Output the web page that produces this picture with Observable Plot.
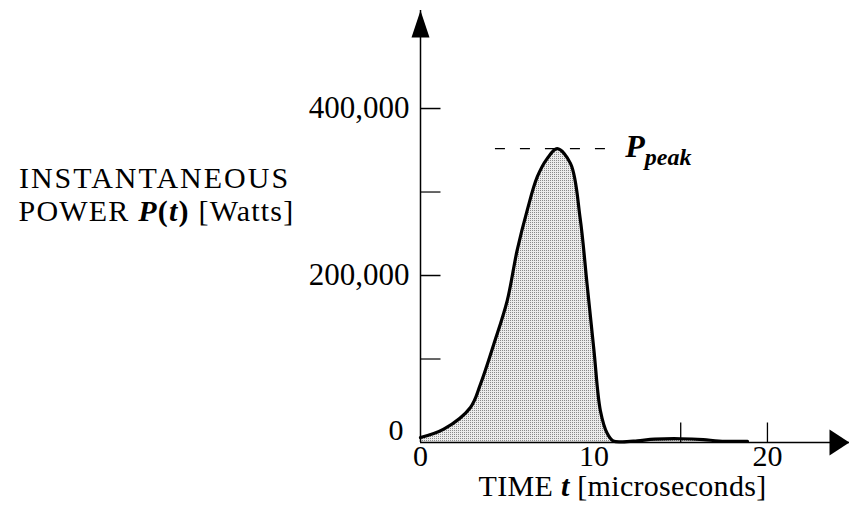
<!DOCTYPE html>
<html><head><meta charset="utf-8">
<script src="https://cdn.jsdelivr.net/npm/d3@7"></script>
<script src="https://cdn.jsdelivr.net/npm/@observablehq/plot@0.6"></script>
<style>body{margin:0;background:#fff;} svg{display:block}</style>
</head><body><div id="chart"></div>
<script>
// Time in microseconds, instantaneous power in Watts
const timeValues  = [0, 1.34, 2.88, 3.46, 4.23, 5.0, 5.57, 6.15, 6.73, 7.3, 7.88, 8.65, 9.2, 9.6, 10.0, 10.37, 10.76, 11.1, 11.6, 12.5, 13.5, 15.0, 16.3, 17.2, 18.85];
const powerValues = [6000, 16000, 42000, 70000, 118000, 170000, 230000, 278000, 318000, 340000, 352000, 334000, 269000, 190000, 110000, 38000, 11000, 2000, 800, 2000, 4000, 4500, 3500, 1800, 1500];
const yTickLabels = [200000, 400000];
const yMajorTicks = [200000, 400000];
const yMinorTicks = [100000, 300000];
const xTickLabels = [0, 10, 20];
const xUpTicks = [15, 20];
const xMax = 24.73;
const yMax = 517400;

const data = timeValues.map((t, i) => ({t, p: powerValues[i]}));
const peakPower = d3.max(powerValues);

const upArrow = {draw(c){c.moveTo(0,0); c.lineTo(9,27); c.lineTo(-9,27); c.closePath();}};
const rightArrow = {draw(c){c.moveTo(0,0); c.lineTo(-20,13); c.lineTo(-20,-13); c.closePath();}};
const hTick = {draw(c){c.moveTo(0,0); c.lineTo(20,0);}};
const vTick = {draw(c){c.moveTo(0,0); c.lineTo(0,-20);}};

const font = "Liberation Serif";
const X_LABEL = "TIME t [microseconds]";
const Y_LABEL1 = "INSTANTANEOUS";
const Y_LABEL2 = "POWER P(t) [Watts]";
const PEAK_LABEL = "Ppeak";

const svg = Plot.plot({
  width: 849, height: 511,
  marginLeft: 420, marginRight: 0, marginTop: 10, marginBottom: 69,
  style: {fontFamily: font, background: "#fff", color: "#000"},
  x: {domain: [0, xMax], axis: null},
  y: {domain: [0, yMax], axis: null},
  marks: [
    Plot.areaY(data, {x: "t", y: "p", fill: "url(#stipple)", curve: "catmull-rom"}),
    Plot.ruleY([peakPower], {x1: 4.32, x2: 11.1, stroke: "#000", strokeWidth: 1.3, strokeDasharray: "10,15"}),
    Plot.ruleX([0], {y1: 0, y2: yMax, stroke: "#000", strokeWidth: 1.5}),
    Plot.ruleY([0], {x1: 0, x2: xMax, stroke: "#000", strokeWidth: 1.5}),
    Plot.dot([0], {x: 0, y: yMax, symbol: upArrow, fill: "#000", stroke: "none"}),
    Plot.dot([0], {x: xMax, y: 0, symbol: rightArrow, fill: "#000", stroke: "none"}),
    Plot.dot(yMajorTicks, {x: 0, y: d => d, symbol: hTick, fill: "none", stroke: "#000", strokeWidth: 1.5}),
    Plot.dot(yMinorTicks, {x: 0, y: d => d, symbol: hTick, fill: "none", stroke: "#000", strokeWidth: 1.2}),
    Plot.dot(xUpTicks, {x: d => d, y: 0, symbol: vTick, fill: "none", stroke: "#000", strokeWidth: 1.3}),
    Plot.lineY(data, {x: "t", y: "p", stroke: "#000", strokeWidth: 3.2, curve: "catmull-rom"}),
    Plot.text(yTickLabels, {x: 0, y: d => d, text: d => d3.format(",")(d), dx: -11, textAnchor: "end", fontSize: 31, fill: "#000"}),
    Plot.text(["0"], {x: 0, y: 0, dx: -17, dy: -12, textAnchor: "end", fontSize: 30, fill: "#000"}),
    Plot.text(xTickLabels, {x: d => d, y: 0, dy: 14, text: d => String(d), fontSize: 30, fill: "#000"}),
    Plot.text([X_LABEL], {frameAnchor: "bottom-left", dx: 202, dy: 53.5, textAnchor: "middle", fontSize: 30, fill: "#000"}),
    Plot.text([Y_LABEL1], {frameAnchor: "top-left", dx: -266, dy: 156, textAnchor: "middle", fontSize: 30, fill: "#000"}),
    Plot.text([Y_LABEL2], {frameAnchor: "top-left", dx: -264, dy: 189.5, textAnchor: "middle", fontSize: 30, fill: "#000"}),
    Plot.text([PEAK_LABEL], {x: 11.8, y: peakPower, dy: -2, textAnchor: "start", fontSize: 32, fill: "#000"})
  ]
});

const s = d3.select(svg);
const defs = s.insert("defs", ":first-child");
const pat = defs.append("pattern").attr("id", "stipple").attr("width", 2).attr("height", 2).attr("patternUnits", "userSpaceOnUse");
pat.append("rect").attr("width", 2).attr("height", 2).attr("fill", "#ececec");
pat.append("rect").attr("width", 1).attr("height", 1).attr("fill", "#8a8a8a");

function findText(str) {
  return s.selectAll("text").filter(function() { return this.textContent === str; });
}
function rich(str, parts, extra) {
  const t = findText(str);
  t.text(null);
  if (extra) for (const k in extra) t.style(k, extra[k]);
  for (const [txt, style] of parts) {
    const sp = t.append("tspan").text(txt);
    if (style) for (const k in style) sp.attr(k, style[k]);
  }
}
const bi = {"font-weight": "bold", "font-style": "italic"};
rich(X_LABEL, [["TIME "], ["t", bi], [" [microseconds]"]], {"letter-spacing": "0.3px"});
rich(Y_LABEL2, [["POWER "], ["P", bi], ["(", {"font-weight": "bold"}], ["t", bi], [")", {"font-weight": "bold"}], [" [Watts]"]], {"letter-spacing": "1.2px"});
findText(Y_LABEL1).style("letter-spacing", "2px");
rich(PEAK_LABEL, [["P", bi], ["peak", Object.assign({"font-size": 24, dy: 8}, bi)]]);

document.getElementById("chart").append(svg);
</script>
</body></html>
